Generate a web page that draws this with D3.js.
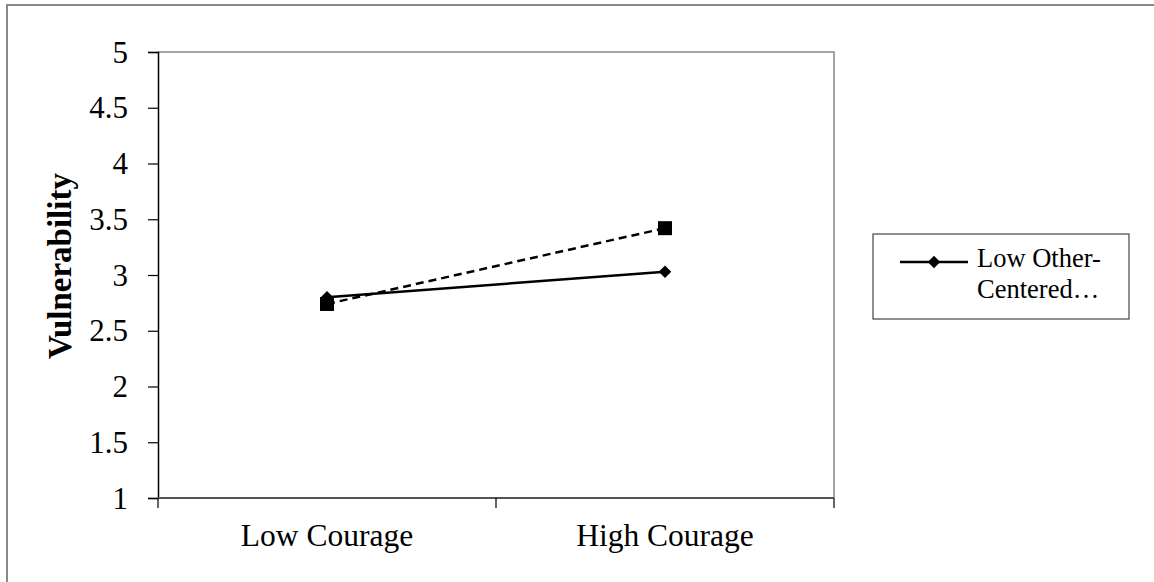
<!DOCTYPE html>
<html>
<head>
<meta charset="utf-8">
<script src="https://cdn.jsdelivr.net/npm/d3@7"></script>
<style>
  body { margin: 0; background: #fff; }
  svg text { font-family: "Liberation Serif", "Times New Roman", serif; fill: #000; }
</style>
</head>
<body>
<div id="chart"></div>
<script>
// data
const categories = ['Low Courage', 'High Courage'];
const lowOtherCentered = [2.80, 3.03];
const highOtherCentered = [2.74, 3.42];
const yTicks = [1, 1.5, 2, 2.5, 3, 3.5, 4, 4.5, 5];
const legendLabel = ['Low Other-', 'Centered…'];

const W = 1154;
const H = 582;
const m = { left: 158, right: 834, top: 52, bottom: 498 };

const svg = d3.select('#chart')
  .append('svg')
  .attr('width', W)
  .attr('height', H);

// outer chart border (runs off right and bottom edges)
svg.append('rect')
  .attr('x', 7)
  .attr('y', 5)
  .attr('width', W + 10)
  .attr('height', H + 10)
  .attr('fill', 'none')
  .attr('stroke', '#888')
  .attr('stroke-width', 2);

const x = d3.scaleBand()
  .domain(categories)
  .range([m.left, m.right]);

const y = d3.scaleLinear()
  .domain([1, 5])
  .range([m.bottom, m.top]);

// plot area frame, top and right in gray
svg.append('path')
  .attr('d', `M${m.left},${m.top}H${m.right}V${m.bottom}`)
  .attr('fill', 'none')
  .attr('stroke', '#888')
  .attr('stroke-width', 1.5);

// y axis
const yAxis = svg.append('g')
  .attr('transform', `translate(${m.left},0)`)
  .call(d3.axisLeft(y).tickValues(yTicks).tickSize(10).tickPadding(20).tickFormat(d3.format('')));
yAxis.select('.domain').attr('stroke', '#000').attr('stroke-width', 1.5);
yAxis.selectAll('.tick line').attr('stroke', '#000').attr('stroke-width', 1.2);
yAxis.selectAll('.tick text')
  .attr('font-size', 31)
  .attr('font-family', '"Liberation Serif", serif')
  .attr('dy', '0.33em');

// x axis, ticks at band edges
const xAxis = svg.append('g')
  .attr('transform', `translate(0,${m.bottom})`);
xAxis.append('line')
  .attr('x1', m.left).attr('x2', m.right)
  .attr('stroke', '#555').attr('stroke-width', 2);
const edges = [x(categories[0]), ...categories.map((c) => x(c) + x.bandwidth())];
xAxis.selectAll('.edge')
  .data(edges)
  .enter()
  .append('line')
  .attr('class', 'edge')
  .attr('x1', (d) => d).attr('x2', (d) => d)
  .attr('y1', 0).attr('y2', 10)
  .attr('stroke', '#000')
  .attr('stroke-width', 1.2);
xAxis.selectAll('.lbl')
  .data(categories)
  .enter()
  .append('text')
  .attr('class', 'lbl')
  .attr('x', (d) => x(d) + x.bandwidth() / 2)
  .attr('y', 48)
  .attr('text-anchor', 'middle')
  .attr('font-size', 31.5)
  .text((d) => d);

// y label
svg.append('text')
  .attr('transform', `translate(71,266) rotate(-90)`)
  .attr('text-anchor', 'middle')
  .attr('font-size', 33)
  .attr('font-weight', 'bold')
  .text('Vulnerability');

const cx = (i) => x(categories[i]) + x.bandwidth() / 2;
const line = d3.line()
  .x((d, i) => cx(i))
  .y((d) => y(d));

// dashed series
svg.append('path')
  .datum(highOtherCentered)
  .attr('d', line)
  .attr('fill', 'none')
  .attr('stroke', '#000')
  .attr('stroke-width', 2.5)
  .attr('stroke-dasharray', '8,5');

svg.selectAll('.sq')
  .data(highOtherCentered)
  .enter()
  .append('rect')
  .attr('class', 'sq')
  .attr('x', (d, i) => cx(i) - 7)
  .attr('y', (d) => y(d) - 7)
  .attr('width', 14)
  .attr('height', 14)
  .attr('fill', '#000');

// solid series
svg.append('path')
  .datum(lowOtherCentered)
  .attr('d', line)
  .attr('fill', 'none')
  .attr('stroke', '#000')
  .attr('stroke-width', 2.5);

const diamond = d3.symbol().type(d3.symbolDiamond2).size(100);
svg.selectAll('.dm')
  .data(lowOtherCentered)
  .enter()
  .append('path')
  .attr('class', 'dm')
  .attr('d', diamond)
  .attr('transform', (d, i) => `translate(${cx(i)},${y(d)})`)
  .attr('fill', '#000');

// legend
const lg = svg.append('g');
lg.append('rect')
  .attr('x', 873).attr('y', 234)
  .attr('width', 256).attr('height', 85)
  .attr('fill', '#fff')
  .attr('stroke', '#444')
  .attr('stroke-width', 1.2);
lg.append('line')
  .attr('x1', 900).attr('x2', 968)
  .attr('y1', 262).attr('y2', 262)
  .attr('stroke', '#000')
  .attr('stroke-width', 2.5);
lg.append('path')
  .attr('d', diamond)
  .attr('transform', 'translate(934,262)')
  .attr('fill', '#000');
lg.selectAll('.lt')
  .data(legendLabel)
  .enter()
  .append('text')
  .attr('class', 'lt')
  .attr('x', 977)
  .attr('y', (d, i) => 267 + i * 31)
  .attr('font-size', 26.5)
  .text((d) => d);
</script>
</body>
</html>
